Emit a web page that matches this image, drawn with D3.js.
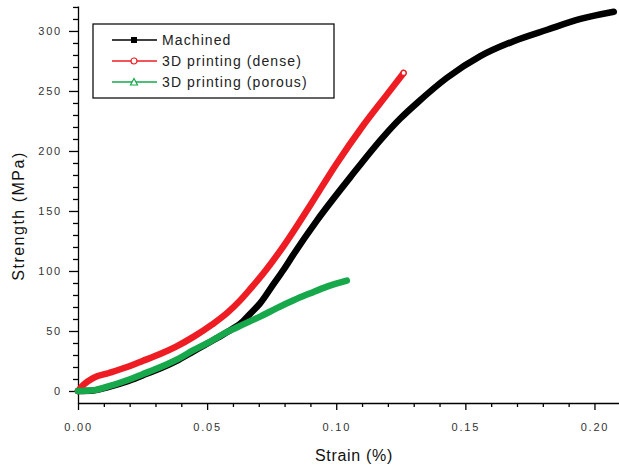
<!DOCTYPE html>
<html>
<head>
<meta charset="utf-8">
<script src="https://cdn.jsdelivr.net/npm/d3@7"></script>
<style>
  body { margin: 0; background: #fff; }
  text { font-family: "Liberation Sans", Arial, sans-serif; }
</style>
</head>
<body>
<script>
// series (strain in %, strength in MPa)
const seriesNames = ["Machined", "3D printing (dense)", "3D printing (porous)"];

const machinedStrain = [0, 0.006, 0.012, 0.019, 0.025, 0.032, 0.039, 0.0447, 0.050, 0.055, 0.060, 0.0628, 0.0665, 0.0705, 0.0757, 0.0796, 0.0835, 0.0925, 0.1054, 0.1183, 0.1248, 0.1313, 0.1429, 0.1558, 0.1687, 0.1817, 0.1946, 0.2075];
const machinedStrength = [0, 0.5, 3.5, 8, 13, 19, 26, 33, 39.5, 45.5, 52, 56, 64, 73, 89, 101, 114, 142, 178, 212, 227, 240, 261, 279, 291.5, 301, 310, 316];

const denseStrain = [0, 0.002, 0.006, 0.012, 0.019, 0.025, 0.032, 0.038, 0.045, 0.052, 0.058, 0.0628, 0.0667, 0.0725, 0.080, 0.090, 0.100, 0.110, 0.120, 0.1261];
const denseStrength = [0, 5, 11, 15, 20, 25, 31, 37, 45.5, 55.5, 65.5, 75.5, 85, 100, 122, 155, 189, 220, 248, 265];

const porousStrain = [0, 0.006, 0.012, 0.019, 0.025, 0.032, 0.039, 0.0447, 0.051, 0.0576, 0.064, 0.0705, 0.077, 0.0835, 0.090, 0.0964, 0.1041];
const porousStrength = [0, 0.6, 4, 9, 14, 20, 27, 34, 41, 49, 55.5, 62, 69, 75.6, 81.5, 87, 92];

const xMajorTicks = [0, 0.05, 0.10, 0.15, 0.20];
const yMajorTicks = [0, 50, 100, 150, 200, 250, 300];

const W = 619, H = 469;
const colors = ["#000000", "#ee1d23", "#16a84b"];

const svg = d3.select("body").append("svg")
  .attr("width", W).attr("height", H);

const x = d3.scaleLinear().domain([0, 0.2095]).range([78, 619]);
const y = d3.scaleLinear().domain([-10, 320.8]).range([403, 6]);

// minor ticks
const xMinor = d3.range(1, 21).map(i => i / 100).filter(v => !xMajorTicks.some(t => Math.abs(t - v) < 1e-9));
const yMinor = d3.range(10, 330, 10).filter(v => v % 50 !== 0);

svg.append("g")
  .attr("transform", `translate(0,${y(-10)})`)
  .call(d3.axisBottom(x).tickValues(xMinor).tickSize(4).tickSizeOuter(0).tickFormat(""))
  .call(g => g.select(".domain").remove());
svg.append("g")
  .attr("transform", `translate(${x(0)},0)`)
  .call(d3.axisLeft(y).tickValues(yMinor).tickSize(5).tickSizeOuter(0).tickFormat(""))
  .call(g => g.select(".domain").remove());

svg.append("g")
  .attr("transform", `translate(0,${y(-10)})`)
  .call(d3.axisBottom(x).tickValues(xMajorTicks).tickSize(7).tickSizeOuter(0).tickPadding(13).tickFormat(d3.format(".2f")));
svg.append("g")
  .attr("transform", `translate(${x(0)},0)`)
  .call(d3.axisLeft(y).tickValues(yMajorTicks).tickSize(9).tickSizeOuter(0).tickPadding(7).tickFormat(d3.format("d")));

svg.selectAll(".domain, .tick line").attr("stroke", "#000").attr("stroke-width", 1.3);
svg.selectAll(".tick text")
  .attr("fill", "#333")
  .style("font-size", "11px")
  .style("letter-spacing", "1.8px");

// axis titles
svg.append("text")
  .attr("x", 354).attr("y", 461)
  .attr("text-anchor", "middle")
  .style("font-size", "16px").style("letter-spacing", "0.7px")
  .attr("fill", "#111")
  .text("Strain (%)");
svg.append("text")
  .attr("transform", "translate(24,216) rotate(-90)")
  .attr("text-anchor", "middle")
  .style("font-size", "16px").style("letter-spacing", "1.5px")
  .attr("fill", "#111")
  .text("Strength (MPa)");

// curves
const series = [
  { strain: machinedStrain, strength: machinedStrength },
  { strain: denseStrain, strength: denseStrength },
  { strain: porousStrain, strength: porousStrength }
];

const line = d3.line()
  .x(d => x(d[0]))
  .y(d => y(d[1]))
  .curve(d3.curveMonotoneX);

series.forEach((s, i) => {
  const pts = s.strain.map((v, j) => [v, s.strength[j]]);
  svg.append("path")
    .datum(pts)
    .attr("d", line)
    .attr("fill", "none")
    .attr("stroke", colors[i])
    .attr("stroke-width", 6.5)
    .attr("stroke-linejoin", "round")
    .attr("stroke-linecap", "round");
});

// open circle at end of the dense curve
svg.append("circle")
  .attr("cx", x(denseStrain[denseStrain.length - 1]))
  .attr("cy", y(denseStrength[denseStrength.length - 1]))
  .attr("r", 2.5)
  .attr("fill", "#fff")
  .attr("stroke", colors[1])
  .attr("stroke-width", 1.2);

// legend
const legend = svg.append("g");
legend.append("rect")
  .attr("x", 93).attr("y", 24)
  .attr("width", 241).attr("height", 74)
  .attr("fill", "#fff").attr("stroke", "#111").attr("stroke-width", 1.3);

const rowY = [40, 61, 82];
seriesNames.forEach((name, i) => {
  const g = legend.append("g").attr("transform", `translate(0,${rowY[i]})`);
  g.append("line")
    .attr("x1", 112).attr("x2", 157)
    .attr("stroke", colors[i]).attr("stroke-width", 1.5);
  if (i === 0) {
    g.append("rect").attr("x", 131).attr("y", -3).attr("width", 6).attr("height", 6).attr("fill", "#000");
  } else if (i === 1) {
    g.append("circle").attr("cx", 134).attr("r", 3).attr("fill", "#fff").attr("stroke", colors[1]).attr("stroke-width", 1.2);
  } else {
    g.append("path").attr("d", "M134,-3.5L137.5,3L130.5,3Z").attr("fill", "#fff").attr("stroke", colors[2]).attr("stroke-width", 1.2);
  }
  g.append("text")
    .attr("x", 162).attr("y", 0)
    .attr("dominant-baseline", "central")
    .style("font-size", "14px").style("letter-spacing", "1.1px")
    .attr("fill", "#222")
    .text(name);
});
</script>
</body>
</html>
